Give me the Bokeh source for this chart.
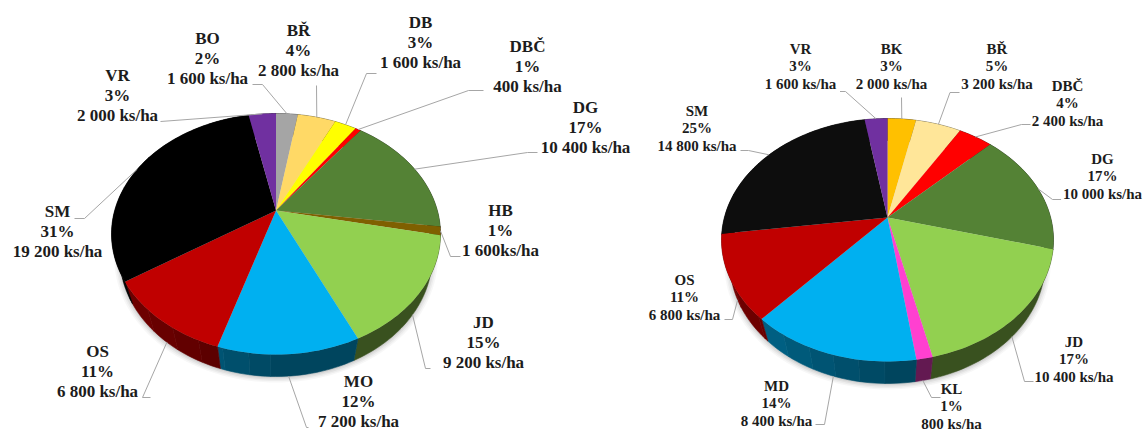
import math
from bokeh.plotting import figure
from bokeh.core.properties import value
from bokeh.embed import file_html
from bokeh.resources import INLINE

# ---- data ----
left_cats = ["BO", "BŘ", "DB", "DBČ", "DG", "HB", "JD", "MO", "OS", "SM", "VR"]
left_pct = ["2%", "4%", "3%", "1%", "17%", "1%", "15%", "12%", "11%", "31%", "3%"]
left_ks = ["1 600 ks/ha", "2 800 ks/ha", "1 600 ks/ha", "400 ks/ha", "10 400 ks/ha", "1 600ks/ha",
           "9 200 ks/ha", "7 200 ks/ha", "6 800 ks/ha", "19 200 ks/ha", "2 000 ks/ha"]
left_vals = [1600, 2800, 1600, 400, 10400, 700, 9200, 7200, 6800, 19200, 2000]
left_colors = ["#a5a5a5", "#ffd966", "#ffff00", "#ff0000", "#548235", "#7f6000", "#92d050",
               "#00b0f0", "#c00000", "#000000", "#7030a0"]

right_cats = ["BK", "BŘ", "DBČ", "DG", "JD", "KL", "MD", "OS", "SM", "VR"]
right_pct = ["3%", "5%", "4%", "17%", "17%", "1%", "14%", "11%", "25%", "3%"]
right_ks = ["2 000 ks/ha", "3 200 ks/ha", "2 400 ks/ha", "10 000 ks/ha", "10 400 ks/ha", "800 ks/ha",
            "8 400 ks/ha", "6 800 ks/ha", "14 800 ks/ha", "1 600 ks/ha"]
right_vals = [2000, 3200, 2400, 10000, 10400, 800, 8400, 6800, 14800, 1600]
right_colors = ["#ffc000", "#ffe699", "#ff0000", "#548235", "#92d050", "#ff40d0", "#00b0f0",
                "#c00000", "#0d0d0d", "#7030a0"]

# ---- layout (page pixels) ----
left_geom = dict(cx=275.5, rx=164.5, ay=210, top=97, bottom=144, depth=22, sx=0.95)
right_geom = dict(cx=887, rx=166, ay=217, top=99, bottom=144, depth=22, sx=0.95)
left_lab = [(207, 38), (298, 30), (420, 22), (527, 46), (585, 107), (500, 210), (483, 322), (358, 381),
            (97, 351), (57, 211), (117, 75)]
left_elbow = [[(252, 84), (262, 84)], [(316, 85)], [(376, 73), (366, 73)], [(483, 90), (468, 90)],
              [(537, 152), (527, 152)], [(460, 256), (450, 256)], [(430, 368), (425, 368)],
              [(308, 427), (306, 427)], [(150, 397), (142, 397)], [(74, 218), (84, 218)], [(160, 121)]]
right_lab = [(891, 48), (996.5, 48), (1067, 85), (1102, 158), (1073.5, 341), (951, 388), (776, 385),
             (684, 279), (696.5, 110), (800, 48)]
right_elbow = [[(901, 97)], [(959, 92), (949.5, 92)], [(1030, 124), (1021, 124)], [(1060.6, 199), (1052, 199)],
               [(1033, 381), (1024, 381)], [(940, 397), (931, 397)], [(815, 424), (824, 424)],
               [(724, 319), (732, 319)], [(740, 150), (748, 150)], [(839.5, 91), (845, 91)]]

p = figure(width=1145, height=430, x_range=(0, 1145), y_range=(430, 0), output_backend="svg",
           toolbar_location=None, min_border=0, outline_line_color=None, background_fill_color="white",
           border_fill_color="white")
p.axis.visible = False
p.grid.visible = False


def hex_rgb(c):
    return tuple(int(c[i:i + 2], 16) for i in (1, 3, 5))


def to_hex(r):
    return "#%02x%02x%02x" % tuple(max(0, min(255, int(round(a)))) for a in r)


def draw_pie(vals, colors, cats, pct, ks, g, lab, elbows, font_px, line_gap):
    cx, rx, ay, depth, sx = g["cx"], g["rx"], g["ay"], g["depth"], g["sx"]
    ratio = g["bottom"] / g["top"]
    k = (ratio - 1) / (ratio + 1)
    S = g["top"] * (1 + k)
    R = rx * math.sqrt(1 - k * k)

    def proj(th):
        u, v = math.sin(th), -math.cos(th)
        d = 1 - k * v
        return cx + R * u / d, ay + S * v / d

    def lower(x, y):
        return cx + (x - cx) * sx, y + depth

    # soft shadow under the pie
    n_ang = [2 * math.pi * i / 180 for i in range(180)]
    for grow, a in [(1.035, 0.03), (1.025, 0.04), (1.015, 0.05), (1.005, 0.06)]:
        xs, ys = [], []
        for t in n_ang:
            x, y = lower(*proj(t))
            xs.append(cx + (x - cx) * grow)
            ys.append(ay + depth + 1 + (y - ay - depth) * grow)
        p.patch(xs, ys, fill_color="black", fill_alpha=a, line_color=None)

    total = sum(vals)
    start = 0.0
    qx, qy, qc = [], [], []
    faces = []
    mids = []
    for val, col in zip(vals, colors):
        sweep = 2 * math.pi * val / total
        n = max(2, int(sweep / math.radians(1.5)))
        angs = [start + sweep * i / n for i in range(n + 1)]
        arc = [proj(t) for t in angs]
        faces.append(([cx] + [a[0] for a in arc], [ay] + [a[1] for a in arc], col))
        rgb = hex_rgb(col)
        # side wall: merge neighbouring steps that share one shade into a single band
        band = [arc[0]]
        band_f = None
        for a, b in zip(arc[:-1], arc[1:]):
            dx = ((a[0] + b[0]) / 2 - cx) / rx
            f = round((0.40 + 0.2 * max(0.0, -dx)) / 0.03) * 0.03
            if band_f is not None and f != band_f:
                low = [lower(*q) for q in reversed(band)]
                qx.append([q[0] for q in band + low])
                qy.append([q[1] for q in band + low])
                qc.append(to_hex([c * band_f for c in rgb]))
                band = [a]
            band.append(b)
            band_f = f
        low = [lower(*q) for q in reversed(band)]
        qx.append([q[0] for q in band + low])
        qy.append([q[1] for q in band + low])
        qc.append(to_hex([c * band_f for c in rgb]))
        mids.append(start + sweep / 2)
        start += sweep

    p.patches(qx, qy, fill_color=qc, line_color=qc, line_width=0.6)
    for xs, ys, col in faces:
        p.patch(xs, ys, fill_color=col, line_color=None)

    # leader lines
    for th, pts in zip(mids, elbows):
        x, y = proj(th)
        if -math.cos(th) > 0.2:
            x, y = lower(x, y)
        p.line([q[0] for q in pts] + [x], [q[1] for q in pts] + [y], line_color="#a6a6a6", line_width=1)

    # labels
    tx, ty, tt = [], [], []
    for (lx, ly), c, pc, kk in zip(lab, cats, pct, ks):
        for i, s in enumerate((c, pc, kk)):
            tx.append(lx)
            ty.append(ly + i * line_gap)
            tt.append(s)
    p.text(tx, ty, text=tt, text_align="center", text_baseline="middle", text_color="#1c1c1c",
           text_font=value("Liberation Serif"), text_font_style="bold", text_font_size=f"{font_px}px")


draw_pie(left_vals, left_colors, left_cats, left_pct, left_ks, left_geom, left_lab, left_elbow, 17, 20)
draw_pie(right_vals, right_colors, right_cats, right_pct, right_ks, right_geom, right_lab, right_elbow, 15, 17.5)

open("out.html", "w").write(file_html(p, INLINE))
